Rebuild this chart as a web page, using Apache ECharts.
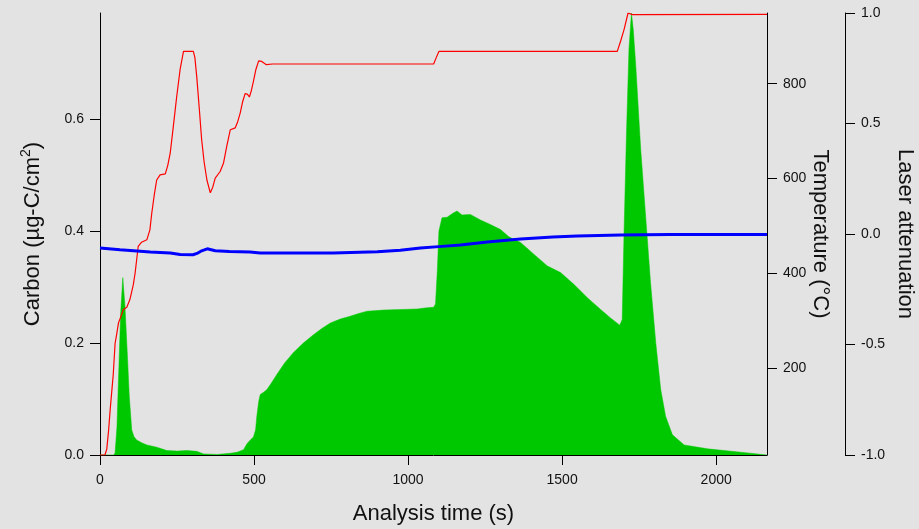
<!DOCTYPE html>
<html>
<head>
<meta charset="utf-8">
<script src="https://cdn.jsdelivr.net/npm/echarts@6/dist/echarts.min.js"></script>
<style>
html,body{margin:0;padding:0;background:#e3e3e3;}
#c{width:919px;height:529px;}
</style>
</head>
<body>
<div id="c"></div>
<script>
// Analysis time ticks and axis tick labels
var timeTicks = [0, 500, 1000, 1500, 2000];
var carbonTicks = [0, 0.2, 0.4, 0.6];
var tempTicks = [200, 400, 600, 800];
var laserTicks = [-1, -0.5, 0, 0.5, 1];

// Carbon signal (µg-C/cm2) vs analysis time (s)
var carbonData = [
  [0,0],[45,0],[49,0.004],[55,0.05],[60,0.135],[67,0.254],[74,0.317],[81,0.266],[89,0.177],[95,0.105],
  [103,0.045],[110,0.033],[119,0.027],[135,0.022],[152,0.018],[184,0.014],[200,0.011],[217,0.008],[250,0.007],
  [282,0.008],[314,0.0065],[336,0.002],[380,0.001],[423,0.003],[445,0.005],[466,0.0095],[477,0.02],[488,0.027],
  [498,0.032],[505,0.045],[509,0.069],[515,0.095],[520,0.108],[531,0.112],[542,0.117],[558,0.13],[574,0.144],
  [600,0.165],[628,0.183],[660,0.2],[693,0.215],[720,0.226],[748,0.236],[780,0.243],[812,0.248],[840,0.253],
  [867,0.257],[920,0.259],[975,0.26],[1030,0.261],[1060,0.263],[1083,0.264],[1089,0.27],[1095,0.33],[1100,0.40],
  [1110,0.424],[1127,0.425],[1145,0.432],[1159,0.436],[1175,0.429],[1202,0.430],[1235,0.420],[1267,0.412],
  [1300,0.403],[1327,0.390],[1365,0.380],[1408,0.359],[1452,0.338],[1495,0.326],[1538,0.305],[1582,0.281],
  [1625,0.260],[1657,0.245],[1687,0.232],[1695,0.242],[1701,0.398],[1709,0.577],[1717,0.726],[1725,0.79],
  [1731,0.76],[1739,0.696],[1755,0.547],[1771,0.427],[1787,0.308],[1804,0.2],[1820,0.117],[1836,0.069],
  [1858,0.036],[1896,0.018],[1972,0.011],[2080,0.005],[2165,0]
];

// Temperature (°C) vs analysis time (s)
var tempData = [
  [0,17.5],[16,17.5],[22,30],[28,70],[33,113],[38,150],[43,187],[49,253],[54,271],[60,296],[70,313],[76,324],
  [87,329],[97,345],[108,376],[114,401],[124,457],[135,466],[152,471],[162,492],[168,527],[176,565],[184,597],
  [195,608],[212,610],[220,628],[228,654],[238,710],[249,773],[260,830],[271,868],[303,868],[308,855],[314,815],
  [322,750],[330,682],[338,635],[347,597],[358,570],[366,582],[374,601],[390,615],[401,633],[412,670],[423,703],
  [439,707],[447,720],[455,738],[463,762],[471,779],[478,778],[485,772],[491,785],[498,805],[506,830],[515,848],
  [525,847],[540,840],[560,841.5],[1083,841.5],[1092,856],[1100,868],[1679,868],[1690,890],[1701,914],
  [1714,949],[1728,945.5],[2165,946]
];

// Laser attenuation vs analysis time (s)
var laserData = [
  [0,-0.063],[65,-0.071],[163,-0.081],[228,-0.086],[260,-0.093],[302,-0.094],[315,-0.088],[330,-0.076],
  [348,-0.067],[374,-0.076],[420,-0.079],[487,-0.081],[520,-0.086],[757,-0.086],[900,-0.08],[975,-0.074],
  [1040,-0.063],[1110,-0.056],[1170,-0.05],[1257,-0.036],[1365,-0.023],[1470,-0.014],[1549,-0.009],
  [1690,-0.005],[1850,-0.002],[2165,-0.002]
];

var FONT = '"Liberation Sans", Arial, sans-serif';
var TXT = '#111';
var lineStyle = { color: '#000', width: 1 };

var chart = echarts.init(document.getElementById('c'), null, { renderer: 'canvas' });
chart.setOption({
  backgroundColor: '#e3e3e3',
  animation: false,
  grid: { left: 100, right: 152, top: 13, bottom: 74, outerBoundsMode: 'none', containLabel: false },
  xAxis: {
    type: 'value', min: 0, max: 2165,
    name: 'Analysis time (s)', nameLocation: 'middle', nameGap: 48, nameMoveOverlap: false,
    nameTextStyle: { fontSize: 22, color: TXT, fontFamily: FONT },
    axisLine: { show: true, onZero: false, lineStyle: lineStyle },
    axisTick: { show: true, length: 10, lineStyle: lineStyle, customValues: timeTicks },
    axisLabel: { fontSize: 14, color: TXT, fontFamily: FONT, margin: 18, customValues: timeTicks,
      formatter: function (v) { return String(v); } },
    splitLine: { show: false }
  },
  yAxis: [
    {
      type: 'value', min: 0, max: 0.79, position: 'left',
      name: '{b|Carbon (µg-C/cm}{s|2}{b|)}', nameLocation: 'middle', nameGap: 53, nameMoveOverlap: false,
      nameTextStyle: {
        fontSize: 22, color: TXT, fontFamily: FONT,
        rich: {
          b: { fontSize: 22, lineHeight: 28, verticalAlign: 'middle', color: TXT, fontFamily: FONT },
          s: { fontSize: 14, lineHeight: 14, verticalAlign: 'top', color: TXT, fontFamily: FONT }
        }
      },
      axisLine: { show: true, lineStyle: lineStyle },
      axisTick: { show: true, length: 10, lineStyle: lineStyle, customValues: carbonTicks },
      axisLabel: { fontSize: 14, color: TXT, fontFamily: FONT, margin: 16, customValues: carbonTicks,
        formatter: function (v) { return v.toFixed(1); } },
      splitLine: { show: false }
    },
    {
      type: 'value', min: 17.5, max: 949, position: 'right',
      name: 'Temperature (°C)', nameLocation: 'middle', nameGap: 42, nameRotate: -90, nameMoveOverlap: false,
      nameTextStyle: { fontSize: 22, color: TXT, fontFamily: FONT },
      axisLine: { show: true, lineStyle: lineStyle },
      axisTick: { show: true, length: 10, lineStyle: lineStyle, customValues: tempTicks },
      axisLabel: { fontSize: 14, color: TXT, fontFamily: FONT, margin: 16, customValues: tempTicks,
        formatter: function (v) { return String(v); } },
      splitLine: { show: false }
    },
    {
      type: 'value', min: -1, max: 1, position: 'right', offset: 78,
      name: 'Laser attenuation', nameLocation: 'middle', nameGap: 49, nameRotate: -90, nameMoveOverlap: false,
      nameTextStyle: { fontSize: 22, color: TXT, fontFamily: FONT },
      axisLine: { show: true, lineStyle: lineStyle },
      axisTick: { show: true, length: 10, lineStyle: lineStyle, customValues: laserTicks },
      axisLabel: { fontSize: 14, color: TXT, fontFamily: FONT, margin: 16, customValues: laserTicks,
        formatter: function (v) { return v.toFixed(1); } },
      splitLine: { show: false }
    }
  ],
  series: [
    {
      name: 'Carbon', type: 'line', yAxisIndex: 0, data: carbonData,
      showSymbol: false, symbol: 'none', smooth: false,
      lineStyle: { width: 0.5, color: '#00c800' },
      areaStyle: { color: '#00c800', opacity: 1 },
      z: 1
    },
    {
      name: 'Temperature', type: 'line', yAxisIndex: 1, data: tempData,
      showSymbol: false, symbol: 'none',
      lineStyle: { width: 1.2, color: '#ff0000' },
      z: 2
    },
    {
      name: 'Laser attenuation', type: 'line', yAxisIndex: 2, data: laserData,
      showSymbol: false, symbol: 'none',
      lineStyle: { width: 3, color: '#0000ff' },
      z: 3
    }
  ]
});
</script>
</body>
</html>
